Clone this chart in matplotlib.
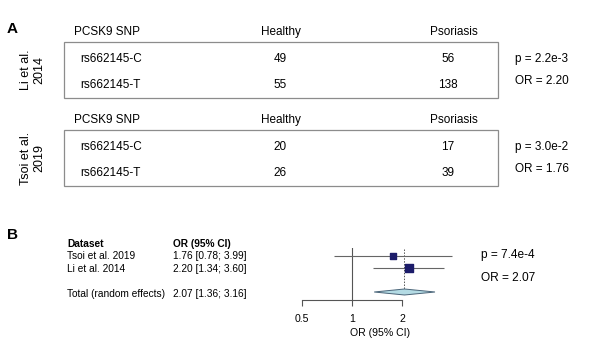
import matplotlib.pyplot as plt
from matplotlib.patches import Rectangle, Polygon

plt.rcParams['font.family'] = ['Liberation Sans', 'DejaVu Sans']

# panel A data
studies_a = ["Li et al.\n2014", "Tsoi et al.\n2019"]
snps = ["rs662145-C", "rs662145-T"]
healthy = [[49, 55], [20, 26]]
psoriasis = [[56, 138], [17, 39]]
p_a = ["2.2e-3", "3.0e-2"]
or_a = ["2.20", "1.76"]

# panel B data
studies_b = ["Tsoi et al. 2019", "Li et al. 2014"]
or_b = [1.76, 2.20]
lo_b = [0.78, 1.34]
hi_b = [3.99, 3.60]
weight_b = [0.28, 0.72]
total_or, total_lo, total_hi = 2.07, 1.36, 3.16
total_p = "7.4e-4"

W, H = 605, 352
fig = plt.figure(figsize=(W / 100, H / 100), dpi=100)
ax0 = fig.add_axes([0, 0, 1, 1])
ax0.set_xlim(0, W)
ax0.set_ylim(H, 0)
ax0.axis('off')

fs = 8.5
ax0.text(7, 29, "A", fontsize=11, fontweight='bold', va='center')
ax0.text(7, 235, "B", fontsize=11, fontweight='bold', va='center')

# tables in panel A
tops = [42, 130]
for i in range(2):
    top = tops[i]
    hdr = top - 10
    ax0.text(74, hdr, "PCSK9 SNP", fontsize=fs, va='center')
    ax0.text(281, hdr, "Healthy", fontsize=fs, va='center', ha='center')
    ax0.text(454, hdr, "Psoriasis", fontsize=fs, va='center', ha='center')
    ax0.add_patch(Rectangle((64, top), 434, 56, fill=False, ec='#8c8c8c', lw=0.9))
    for j in range(2):
        y = top + 17 + 26 * j
        ax0.text(80, y, snps[j], fontsize=fs, va='center')
        ax0.text(280, y, str(healthy[i][j]), fontsize=fs, va='center', ha='center')
        ax0.text(448, y, str(psoriasis[i][j]), fontsize=fs, va='center', ha='center')
    ax0.text(515, top + 17, "p = " + p_a[i], fontsize=fs, va='center')
    ax0.text(515, top + 39, "OR = " + or_a[i], fontsize=fs, va='center')
    ax0.text(33, top + 28, studies_a[i], fontsize=9, va='center', ha='center',
             rotation=90, linespacing=1.15)

# text columns in panel B
fb = 7.3
ax0.text(67, 244, "Dataset", fontsize=fb, fontweight='bold', va='center')
ax0.text(173, 244, "OR (95% CI)", fontsize=fb, fontweight='bold', va='center')
rows_y = [256, 268.5]
for k in range(2):
    ax0.text(67, rows_y[k], studies_b[k], fontsize=fb, va='center')
    ax0.text(173, rows_y[k], "%.2f [%.2f; %.2f]" % (or_b[k], lo_b[k], hi_b[k]),
             fontsize=fb, va='center')
ax0.text(67, 294, "Total (random effects)", fontsize=fb, va='center')
ax0.text(173, 294, "%.2f [%.2f; %.2f]" % (total_or, total_lo, total_hi),
         fontsize=fb, va='center')
ax0.text(481, 255, "p = " + total_p, fontsize=8.6, va='center')
ax0.text(481, 278, "OR = %.2f" % total_or, fontsize=8.6, va='center')

# forest plot
left, right, top_px, bot_px = 290, 470, 248, 300
ax = fig.add_axes([left / W, (H - bot_px) / H, (right - left) / W, (bot_px - top_px) / H])
ax.patch.set_alpha(0)
ax.set_xscale('log', base=2)
ax.set_xlim(2 ** ((left - 352) / 50), 2 ** ((right - 352) / 50))
y_top = 1 - (256 - top_px) / 12
y_bot = 1 + (bot_px - 256) / 12
ax.set_ylim(y_bot, y_top)
for s in ['top', 'right', 'left']:
    ax.spines[s].set_visible(False)
ax.spines['bottom'].set_bounds(0.5, 2)
ax.spines['bottom'].set_color('#555555')
ax.spines['bottom'].set_linewidth(0.8)
ax.set_yticks([])
ax.set_xticks([0.5, 1, 2])
ax.set_xticklabels(["0.5", "1", "2"])
ax.xaxis.set_minor_locator(plt.NullLocator())
ax.tick_params(axis='x', direction='out', length=4, width=0.8, color='#555555',
               labelsize=7.6, pad=6)
ax.set_xlabel("OR (95% CI)", fontsize=7.6, labelpad=3)

ax.axvline(1, color='#555555', lw=0.8)
ax.vlines(total_or, y_top + 0.1, 4, colors='#555555', lw=0.7, linestyles=(0, (1.5, 1.5)))
for k in range(2):
    r = k + 1
    ax.hlines(r, lo_b[k], hi_b[k], colors='#666666', lw=0.8)
    ax.scatter([or_b[k]], [r], marker='s', s=40 * weight_b[k] + 2, color='#1c1c6a', zorder=3)
d = 0.25
ax.add_patch(Polygon([(total_lo, 4), (total_or, 4 - d), (total_hi, 4), (total_or, 4 + d)],
                     closed=True, fc='#b4dbe4', ec='#4a6478', lw=0.7, zorder=3))

fig.savefig("out.png", dpi=100)
